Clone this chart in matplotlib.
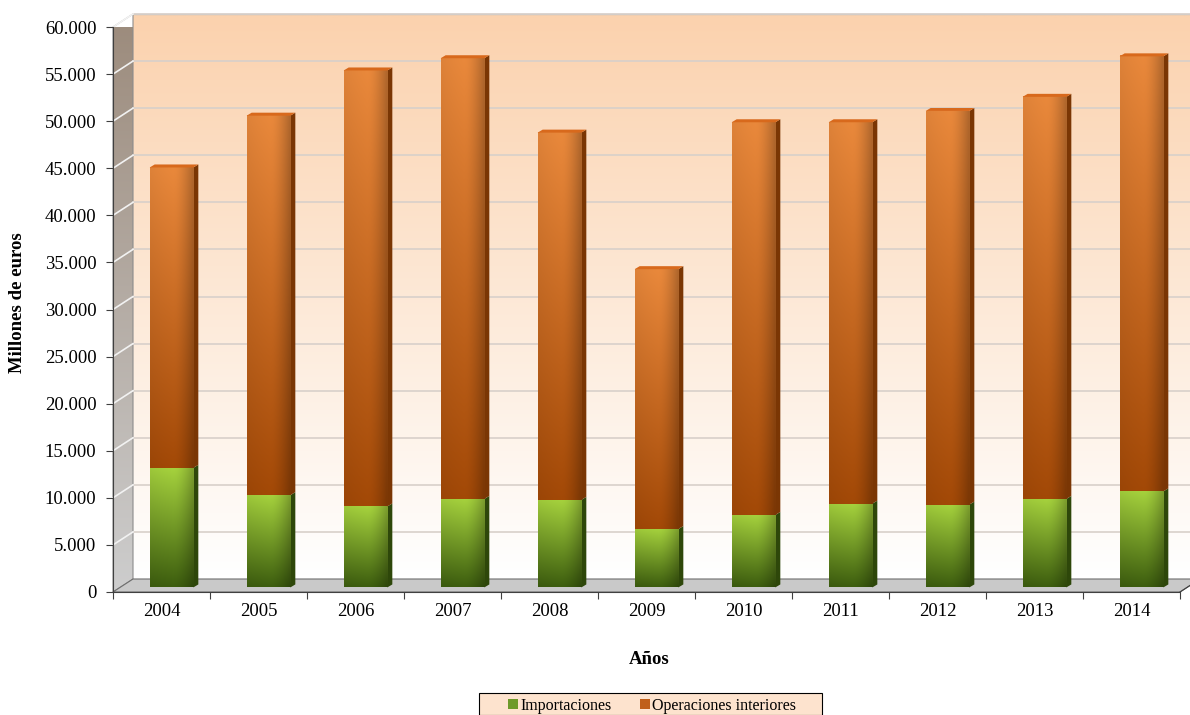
import numpy as np
import matplotlib
matplotlib.use('Agg')
import matplotlib.pyplot as plt
from matplotlib.patches import Polygon, Patch, Rectangle
from matplotlib.colors import to_rgb
from matplotlib.ticker import FuncFormatter

plt.rcParams['font.family'] = ['Liberation Serif', 'DejaVu Serif']

# Datos (millones de euros)
anios = ['2004', '2005', '2006', '2007', '2008', '2009', '2010', '2011', '2012', '2013', '2014']
importaciones = [12700, 9800, 8600, 9400, 9300, 6200, 7700, 8900, 8800, 9400, 10200]
totales = [44600, 50100, 54900, 56200, 48300, 33800, 49400, 49400, 50600, 52100, 56400]
interiores = [t - m for t, m in zip(totales, importaciones)]

W, H = 1190, 715
fig = plt.figure(figsize=(W / 100, H / 100), dpi=100)
ax = fig.add_axes([113 / W, (H - 592) / H, (1180 - 113) / W, (592 - 27) / H])

n = len(anios)
ymax = 60000
# profundidad del efecto 3D (en unidades de datos)
px_x = n / (1180 - 113)
px_y = ymax / (592 - 27)
dx, dy = 20 * px_x, 13 * px_y


def grad_img(ax, extent, top, bottom, side_dark=0.0, zorder=1, clip=None):
    t = np.linspace(0, 1, 64)[:, None]
    c_top = np.array(to_rgb(top))
    c_bot = np.array(to_rgb(bottom))
    img = c_top[None, None, :] * (1 - t[..., None]) + c_bot[None, None, :] * t[..., None]
    img = np.repeat(img, 16, axis=1)
    if side_dark:
        s = np.linspace(0, 1, 16)
        shade = 1 - side_dark * np.clip((s - 0.55) / 0.45, 0, 1) ** 1.5 - 0.06 * (1 - s) ** 2
        img = img * shade[None, :, None]
    im = ax.imshow(img, extent=extent, aspect='auto', origin='upper',
                   zorder=zorder, interpolation='bilinear')
    if clip is not None:
        im.set_clip_path(clip)
    else:
        im.set_clip_on(False)
    return im


# pared del fondo
grad_img(ax, (dx, n + dx, dy, ymax + dy), '#FBD2AE', '#FFFFFF', zorder=0)
ax.plot([dx, n + dx, n + dx], [ymax + dy, ymax + dy, dy], color='#BFBFBF', lw=1, zorder=0.5, clip_on=False)

# pared izquierda
wall = Polygon([(0, 0), (dx, dy), (dx, ymax + dy), (0, ymax)], closed=True,
               facecolor='none', edgecolor='#8C8C8C', lw=0.8, zorder=0.6, clip_on=False)
ax.add_patch(wall)
grad_img(ax, (0, dx, 0, ymax + dy), '#9C8B7C', '#CDCDCD', zorder=0.55, clip=wall)

# lineas de division
for v in range(5000, ymax + 1, 5000):
    ax.plot([dx, n + dx], [v + dy, v + dy], color='#D8D0CA', lw=1.2, zorder=0.7, clip_on=False)
    ax.plot([0, dx], [v, v + dy], color='#F2F2F2', lw=1.2, zorder=0.7, clip_on=False)

# suelo
floor = Polygon([(0, 0), (n, 0), (n + dx, dy), (dx, dy)], closed=True,
                facecolor='#C9C9C9', edgecolor='#6E6E6E', lw=0.8, zorder=0.8, clip_on=False)
ax.add_patch(floor)

# columnas
bw = 0.45
base = 0.35 * dy
ddx, ddy = 5 * px_x, 3 * px_y
for i in range(n):
    x0 = i + 0.5 + dx / 2 - bw / 2
    x1 = x0 + bw
    segs = [(base, base + importaciones[i], '#A8D53E', '#3E5F0F', '#2E470A'),
            (base + importaciones[i], base + totales[i], '#EC8A3C', '#A54A07', '#7A3604')]
    for y0, y1, ctop, cbot, cside in segs:
        side = Polygon([(x1, y0), (x1 + ddx, y0 + ddy), (x1 + ddx, y1 + ddy), (x1, y1)],
                       closed=True, facecolor=cside, edgecolor='none', zorder=2, clip_on=False)
        ax.add_patch(side)
        grad_img(ax, (x0, x1, y0, y1), ctop, cbot, side_dark=0.25, zorder=2)
    cap = Polygon([(x0, base + totales[i]), (x0 + ddx, base + totales[i] + ddy),
                   (x1 + ddx, base + totales[i] + ddy), (x1, base + totales[i])],
                  closed=True, facecolor='#D8691C', edgecolor='none', zorder=2.1, clip_on=False)
    ax.add_patch(cap)

# ejes
ax.set_xlim(0, n)
ax.set_ylim(0, ymax)
ax.patch.set_visible(False)
for s in ['top', 'right']:
    ax.spines[s].set_visible(False)
ax.spines['left'].set_color('#404040')
ax.spines['bottom'].set_color('#404040')
ax.spines['left'].set_zorder(3)
ax.spines['bottom'].set_zorder(3)
ax.plot([n, n + dx * 0.5], [0, dy * 0.5], color='#404040', lw=0.8, clip_on=False, zorder=3)

ax.set_yticks(range(0, ymax + 1, 5000))
ax.yaxis.set_major_formatter(FuncFormatter(lambda v, p: f'{int(v):,}'.replace(',', '.')))
ax.tick_params(axis='y', direction='out', length=5, width=0.8, color='#404040',
               labelsize=13.5, pad=7)
ax.set_xticks(np.arange(0, n + 1))
ax.set_xticklabels([])
ax.set_xticks(np.arange(n) + 0.5, minor=True)
ax.set_xticklabels(anios, minor=True)
ax.tick_params(axis='x', which='major', direction='out', length=5, width=0.8, color='#404040')
ax.tick_params(axis='x', which='minor', length=0, labelsize=13.5, pad=8)

fig.text(18 / W, 1 - 303 / H, 'Millones de euros', rotation=90, ha='center', va='center',
         fontsize=13.5, fontweight='bold')
fig.text(649 / W, 1 - 660 / H, 'Años', ha='center', va='center',
         fontsize=13.5, fontweight='bold')

# leyenda con marco propio
fig.patches.append(Rectangle((479 / W, 0), (822 - 479) / W, (H - 693) / H,
                             transform=fig.transFigure, facecolor='#FDE3CE',
                             edgecolor='#000000', lw=0.8, zorder=0))
handles = [Patch(facecolor='#6E9A2A', edgecolor='none'), Patch(facecolor='#C0601A', edgecolor='none')]
leg = fig.legend(handles, ['Importaciones', 'Operaciones interiores'], loc='center',
                 bbox_to_anchor=(652 / W, 1 - 706 / H), ncol=2, frameon=False,
                 fontsize=11.5, handlelength=0.6, handleheight=0.6, handletextpad=0.15,
                 columnspacing=1.8, borderpad=0, borderaxespad=0)

fig.savefig('out.png', dpi=100)
